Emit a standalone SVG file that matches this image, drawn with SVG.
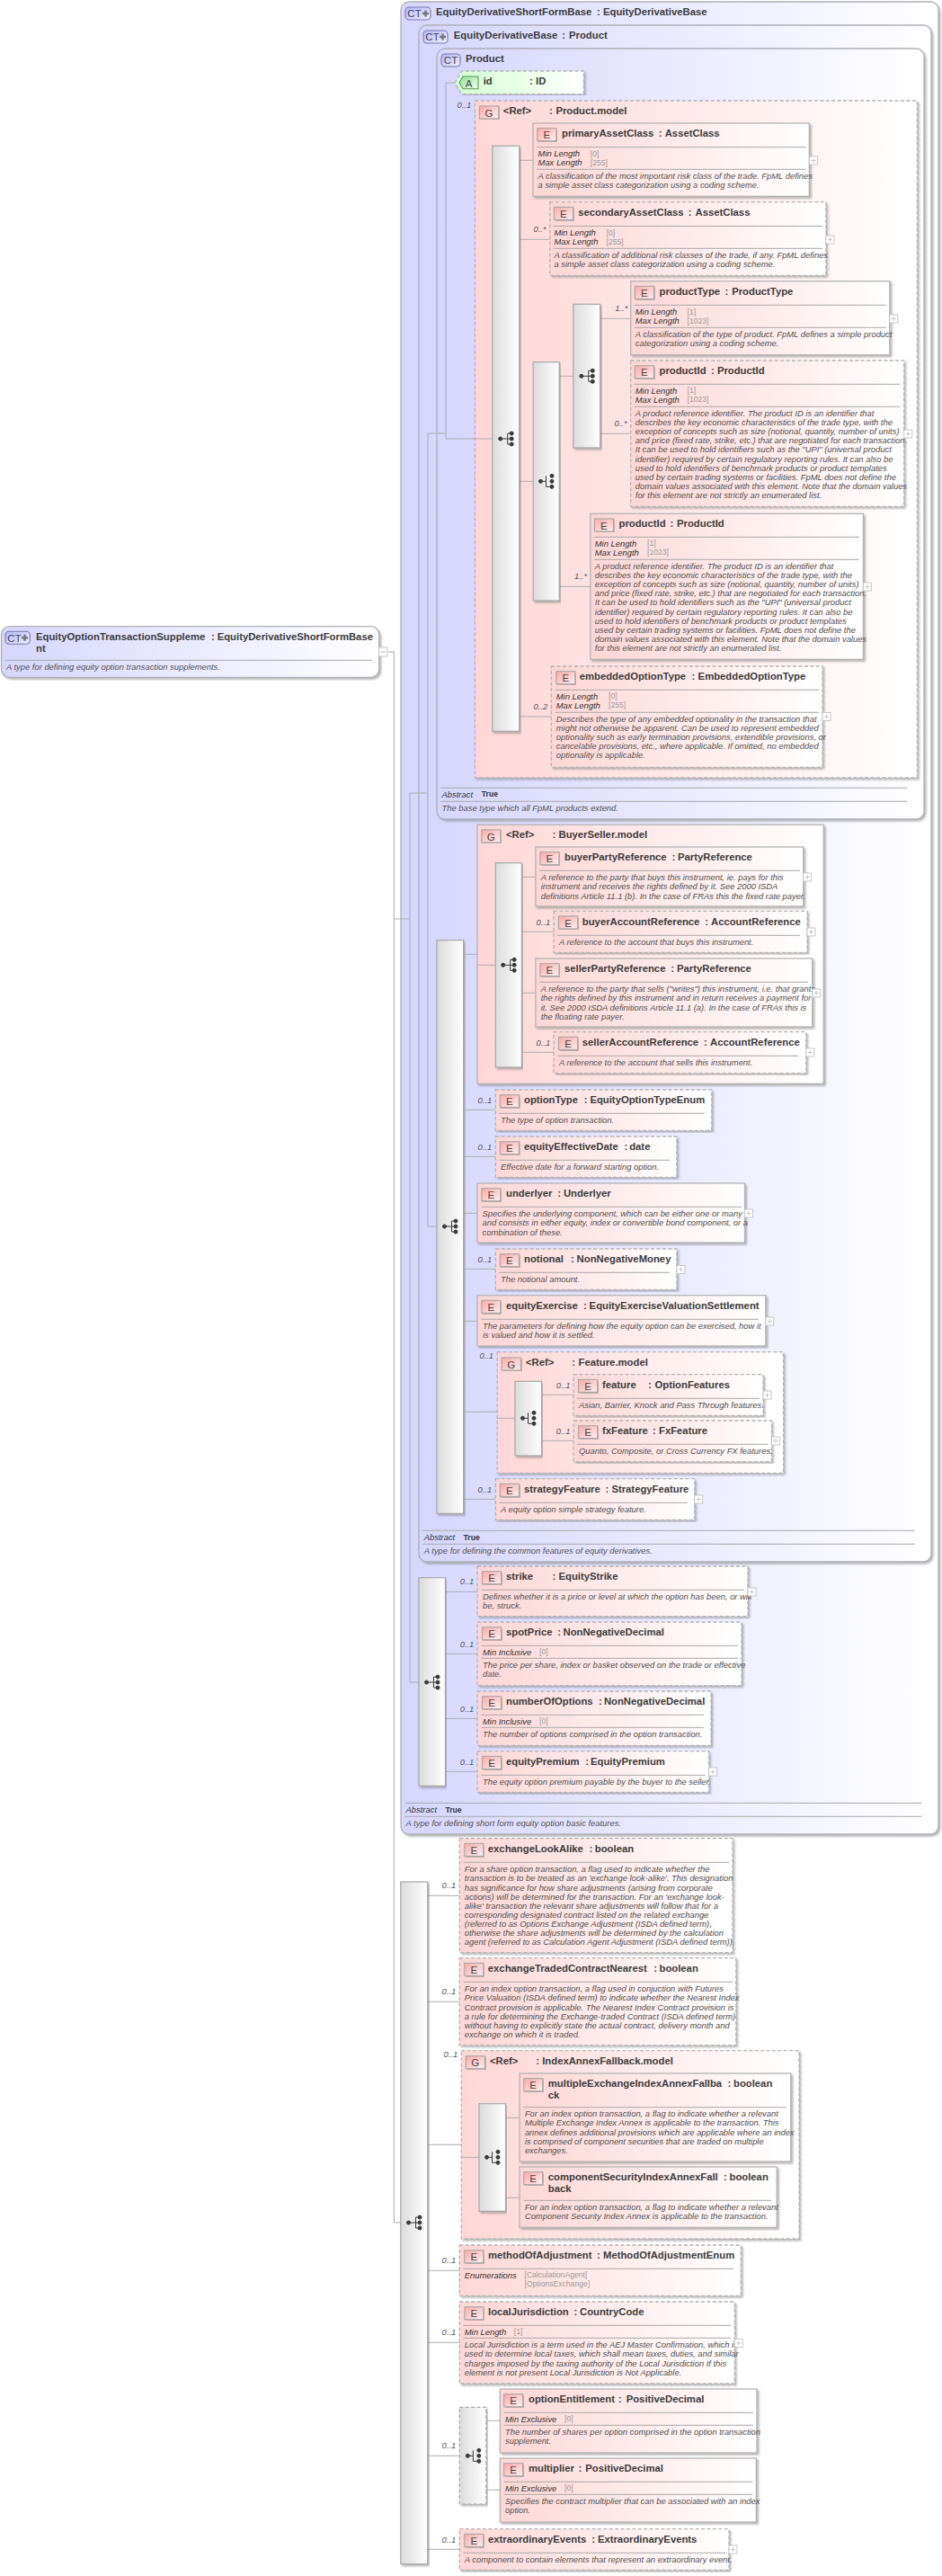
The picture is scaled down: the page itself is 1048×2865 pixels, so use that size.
<svg xmlns="http://www.w3.org/2000/svg" xmlns:xlink="http://www.w3.org/1999/xlink" width="1048" height="2865" viewBox="0 0 1048 2865">
<style>
text{font-family:"Liberation Sans",Arial,sans-serif;fill:#3c3c3c}
.n{font-size:11.3px;font-weight:bold}
.d{font-size:9.4px;font-style:italic;fill:#505050}
.f{font-size:9.4px;font-style:italic;fill:#303030}
.v{font-size:8.6px;fill:#9a9a9a}
.c{font-size:9.4px;font-style:italic;fill:#555}
.tr{font-size:8.6px;font-weight:bold;fill:#333}
.il{font-size:11.5px;text-anchor:middle;fill:#444}
.E{fill:url(#gE);stroke:#aaa;stroke-width:1.2;filter:url(#sh)}
.D{stroke-dasharray:4 2.4}
.B{stroke:#b4b4b4;stroke-width:1.3;filter:url(#sh)}
.ct{fill:url(#gC);stroke:#b0b0b8;stroke-width:1.3;filter:url(#sh)}
.pk{fill:url(#gP)}
.sq{fill:url(#gS);stroke:#a8a8a8;stroke-width:1.2;filter:url(#sh)}
.ic{fill:url(#gI);stroke:#7878a8;stroke-width:1.1}
.lin{stroke:#aaa;stroke-width:1;fill:none}
.dv{stroke:#a8a8a8;stroke-width:1;fill:none}
#connectors path{stroke:#adadad;stroke-width:1;fill:none}
</style>
<defs>
<linearGradient id="gC" x1="0" x2="1" y1="0" y2="0"><stop offset="0" stop-color="#d6d6ff"/><stop offset="1" stop-color="#ffffff"/></linearGradient>
<linearGradient id="gP" x1="0" x2="1" y1="0" y2="0"><stop offset="0" stop-color="#ffd6d6"/><stop offset="1" stop-color="#ffffff"/></linearGradient>
<linearGradient id="gG" x1="0" x2="1" y1="0" y2="0"><stop offset="0" stop-color="#d2ffd2"/><stop offset="1" stop-color="#ffffff"/></linearGradient>
<linearGradient id="gS" x1="0" x2="1" y1="0" y2="0"><stop offset="0" stop-color="#dcdcdc"/><stop offset="1" stop-color="#ffffff"/></linearGradient>
<linearGradient id="gE" x1="0" x2="1" y1="0" y2="1"><stop offset="0" stop-color="#ffa8a8"/><stop offset="1" stop-color="#fff0f0"/></linearGradient>
<linearGradient id="gI" x1="0" x2="1" y1="0" y2="1"><stop offset="0" stop-color="#b4b4ff"/><stop offset="1" stop-color="#f2f2ff"/></linearGradient>
<linearGradient id="gA" x1="0" x2="1" y1="0" y2="1"><stop offset="0" stop-color="#8fe08f"/><stop offset="1" stop-color="#f0fff0"/></linearGradient>
<filter id="sh" x="-5%" y="-5%" width="110%" height="110%"><feDropShadow dx="2" dy="2" stdDeviation="1.2" flood-color="#808080" flood-opacity="0.55"/></filter>
<g id="plus"><rect width="9" height="9" fill="#fff" stroke="#c8c8c8" stroke-width="1"/><path d="M2 4.5h5M4.5 2v5" stroke="#c8c8c8" stroke-width="1" fill="none"/></g>
<g id="seq" fill="#3a3a3a" stroke="#3a3a3a"><path d="M0 0H8M12 -6H8V6H12M8 0H12" fill="none" stroke-width="1"/><circle r="2"/><circle cx="12.5" cy="-6" r="2"/><circle cx="12.5" r="2"/><circle cx="12.5" cy="6" r="2"/></g>
<g id="cho" fill="#3a3a3a" stroke="#3a3a3a"><path d="M0 0H6M6 -6V6H12" fill="none" stroke-width="1"/><circle r="2"/><circle cx="12.5" cy="-6" r="2"/><circle cx="12.5" r="2"/><circle cx="12.5" cy="6" r="2"/></g>
</defs>
<rect width="1048" height="2865" fill="#fff"/>

<g id="ct-EquityDerivativeShortFormBase">
<rect class="ct" x="446" y="2" width="598" height="2038" rx="9"/>
<rect class="ic" x="451" y="8" width="28" height="14" rx="4"/><text class="il" x="461" y="19">CT</text><path d="M470 15h7M473.500 11.500v7" stroke="#777" stroke-width="2.500"/>
<text class="n" x="485" y="17.300">EquityDerivativeShortFormBase</text><text class="n" x="664" y="17.300">:</text><text class="n" x="671" y="17.300">EquityDerivativeBase</text>
<path class="dv" d="M450.500 2005.300H1025.500M450.500 2020.300H1025.500"/>
<text class="f" x="451.600" y="2016.300">Abstract</text><text class="tr" x="495.400" y="2015.500">True</text>
<text class="d" x="451.600" y="2031.300">A type for defining short form equity option basic features.</text>
</g>
<g id="ct-EquityDerivativeBase">
<rect class="ct" x="466" y="28" width="570" height="1709" rx="9"/>
<rect class="ic" x="471" y="34" width="27" height="14" rx="4"/><text class="il" x="481" y="45">CT</text><path d="M489 41h7M492.500 37.500v7" stroke="#777" stroke-width="2.500"/>
<text class="n" x="504.800" y="43.300">EquityDerivativeBase</text><text class="n" x="625.300" y="43.300">:</text><text class="n" x="633" y="43.300">Product</text>
<path class="dv" d="M470.200 1702.300H1017.700M470.200 1717.300H1017.700"/>
<text class="f" x="471.800" y="1713.300">Abstract</text><text class="tr" x="515.600" y="1712.500">True</text>
<text class="d" x="471.800" y="1728.300">A type for defining the common features of equity derivatives.</text>
</g>
<g id="ct-Product">
<rect class="ct" x="486" y="54" width="542" height="857" rx="9"/>
<rect class="ic" x="491" y="60" width="21" height="14" rx="4"/><text class="il" x="501.500" y="71">CT</text>
<text class="n" x="518" y="69">Product</text>
<path class="dv" d="M490.400 876.300H1009.200M490.400 891.300H1009.200"/>
<text class="f" x="491.600" y="886.700">Abstract</text><text class="tr" x="535.800" y="886">True</text>
<text class="d" x="491.600" y="902">The base type which all FpML products extend.</text>
</g>
<g id="g-Product.model">
<rect class="pk B D" x="528.400" y="112" width="492" height="753"/>
<rect class="E" x="533.400" y="118" width="21.400" height="14"/><text class="il" x="544" y="129.500">G</text>
<text class="n" x="559.800" y="127">&lt;Ref&gt;</text><text class="n" x="611" y="127">:</text><text class="n" x="618.400" y="127">Product.model</text>
<text class="c" x="508.500" y="119.500">0..1</text>
</g>
<g id="g-BuyerSeller.model">
<rect class="pk B" x="531" y="917.300" width="385.200" height="288"/>
<rect class="E" x="535.800" y="923" width="21" height="14"/><text class="il" x="546.300" y="934.500">G</text>
<text class="n" x="563" y="932">&lt;Ref&gt;</text><text class="n" x="614.500" y="932">:</text><text class="n" x="621.500" y="932">BuyerSeller.model</text>
</g>
<g id="g-Feature.model">
<rect class="pk B D" x="553.200" y="1503.700" width="318.400" height="134.600"/>
<rect class="E" x="558.300" y="1510" width="21" height="14"/><text class="il" x="568.800" y="1521.500">G</text>
<text class="n" x="585" y="1519">&lt;Ref&gt;</text><text class="n" x="636.200" y="1519">:</text><text class="n" x="643.600" y="1519">Feature.model</text>
<text class="c" x="533.400" y="1511.300">0..1</text>
</g>
<g id="g-IndexAnnexFallback.model">
<rect class="pk B D" x="513.300" y="2280.700" width="375.700" height="209.300"/>
<rect class="E" x="518.300" y="2286.700" width="21" height="14"/><text class="il" x="528.800" y="2298.200">G</text>
<text class="n" x="545" y="2296">&lt;Ref&gt;</text><text class="n" x="596.300" y="2296">:</text><text class="n" x="603.200" y="2296">IndexAnnexFallback.model</text>
<text class="c" x="493.500" y="2288.300">0..1</text>
</g>

<g id="connectors">
<path d="M431 725H438.300V2472H446M438.300 1022H456M456 882V1871H466M456 882H476M476 482V1364H486M476 482H496M496 92V488H548M496 92H506"/>
<path d="M577.600 178.300H593M577.600 266.300H611.800M577.600 535.300H593.200M622.200 418.300H637.800M667.600 354.300H701.700M667.600 482.300H701.700M622.200 652.300H656.800M577.600 797H613.300"/>
<path d="M515.600 1061.300H531M531 1073.300H551.300M580.400 975.300H595.900M580.400 1036.300H616M580.400 1104.300H595.900M580.400 1170.300H616"/>
<path d="M515.600 1234.300H551.300M515.600 1286.300H551.300M515.600 1349.300H531M515.600 1411.300H551.300M515.600 1469.300H531M515.600 1570.300H553.200M553.200 1577.300H573M602.500 1551.300H638.100M602.500 1602.300H638.100M515.600 1667.300H551.300"/>
<path d="M495.400 1770.300H531M495.400 1839.300H531M495.400 1911.300H531M495.400 1970.300H531"/>
<path d="M475.700 2108.300H511.300M475.700 2226.300H511.300M475.700 2385.300H513.300M513.300 2399.300H533M562.500 2355.300H578M562.500 2444.300H578M475.700 2525.300H511.300M475.700 2605.300H511.300M475.700 2731.300H511.300M540.800 2692.300H556.300M540.800 2769.300H556.300M475.700 2835.300H511.300"/>
</g>

<g id="root-EquityOptionTransactionSupplement">
<rect class="ct" x="1.500" y="696.700" width="420.200" height="56.600" rx="9"/>
<rect class="ic" x="6" y="702.300" width="27.300" height="14" rx="4"/><text class="il" x="16" y="713.500">CT</text><path d="M24 709.300h7M27.500 705.800v7" stroke="#777" stroke-width="2.500"/>
<text class="n" x="40" y="712">EquityOptionTransactionSuppleme</text><text class="n" x="40" y="724.700">nt</text><text class="n" x="235" y="712">:</text><text class="n" x="241.700" y="712">EquityDerivativeShortFormBase</text>
<path class="dv" d="M5.300 734.300H413.700"/>
<text class="d" x="7" y="745.300">A type for defining equity option transaction supplements.</text>
<rect x="421.700" y="720" width="9" height="10" fill="#fff" stroke="#c8c8c8"/><path d="M423.700 725h5" stroke="#b0b0b0"/>
</g>

<g id="attr-id">
<path d="M506 92L513.700 79H649.400V104.700H513.700Z" fill="url(#gG)" stroke="#b4b4b4" stroke-width="1.300" stroke-dasharray="4 2.400" filter="url(#sh)"/>
<path d="M515 85H532V98.700H515L511 92Z" fill="url(#gA)" stroke="#5a9a5a" stroke-width="1.100"/><text class="il" x="521.500" y="96.500">A</text>
<text class="n" x="537.700" y="94">id</text><text class="n" x="589" y="94">:</text><text class="n" x="596" y="94">ID</text>
</g>

<g id="seq-main" ><rect class="sq" x="547.800" y="162.300" width="29.800" height="651"/><use href="#seq" x="556.700" y="488"/></g>
<g id="seq-choice"><rect class="sq" x="593.200" y="402.700" width="29" height="265.300"/><use href="#cho" x="601.500" y="535.300"/></g>
<g id="seq-product"><rect class="sq" x="637.800" y="338.300" width="29.800" height="159.700"/><use href="#seq" x="646.800" y="418.300"/></g>

<g id="el-primaryAssetClass">
<rect class="pk B" x="593" y="137" width="307.300" height="81.300"/><rect class="E" x="597.800" y="142.700" width="21" height="14"/><text class="il" x="608.300" y="154.200">E</text>
<text class="n" x="625" y="152">primaryAssetClass</text><text class="n" x="732.800" y="152">:</text><text class="n" x="739.700" y="152">AssetClass</text>
<path class="dv" d="M597 163.700H896.800M597 188.300H896.800"/>
<text class="f" x="598.600" y="174.300">Min Length</text><text class="v" x="656.800" y="173.600">[0]</text>
<text class="f" x="598.600" y="184.300">Max Length</text><text class="v" x="656.800" y="183.600">[255]</text>
<text class="d" x="598.600" y="199.300">A classification of the most important risk class of the trade. FpML defines</text>
<text class="d" x="598.600" y="209.400">a simple asset class categorization using a coding scheme.</text>
<use href="#plus" x="900.600" y="174"/>
</g>
<g id="el-secondaryAssetClass">
<rect class="pk B D" x="611.800" y="224.700" width="307.100" height="81.600"/><rect class="E" x="616.400" y="230.400" width="21" height="14"/><text class="il" x="626.900" y="241.900">E</text>
<text class="n" x="643.200" y="240">secondaryAssetClass</text><text class="n" x="765.700" y="240">:</text><text class="n" x="773.500" y="240">AssetClass</text>
<path class="dv" d="M615.600 251.500H915M615.600 276.300H915"/>
<text class="f" x="616.400" y="262.300">Min Length</text><text class="v" x="674.600" y="261.600">[0]</text>
<text class="f" x="616.400" y="272.300">Max Length</text><text class="v" x="674.600" y="271.600">[255]</text>
<text class="d" x="616.400" y="287.300">A classification of additional risk classes of the trade, if any. FpML defines</text>
<text class="d" x="616.400" y="297.400">a simple asset class categorization using a coding scheme.</text>
<text class="c" x="593.500" y="257.700">0..*</text><use href="#plus" x="918.900" y="262"/>
</g>
<g id="el-productType">
<rect class="pk B" x="701.700" y="312.700" width="288.100" height="82"/><rect class="E" x="706.400" y="318.400" width="21" height="14"/><text class="il" x="716.900" y="329.900">E</text>
<text class="n" x="733.500" y="328">productType</text><text class="n" x="806.400" y="328">:</text><text class="n" x="814.200" y="328">ProductType</text>
<path class="dv" d="M705.600 339.300H985.800M705.600 364.300H985.800"/>
<text class="f" x="706.800" y="350.300">Min Length</text><text class="v" x="764.500" y="349.600">[1]</text>
<text class="f" x="706.800" y="360.300">Max Length</text><text class="v" x="764.500" y="359.600">[1023]</text>
<text class="d" x="706.800" y="375.300">A classification of the type of product. FpML defines a simple product</text>
<text class="d" x="706.800" y="385.400">categorization using a coding scheme.</text>
<text class="c" x="684.300" y="345.700">1..*</text><use href="#plus" x="989.800" y="350"/>
</g>
<g id="el-productId-1">
<rect class="pk B D" x="701.700" y="401" width="304" height="162.300"/><rect class="E" x="706.400" y="406.700" width="21" height="14"/><text class="il" x="716.900" y="418.200">E</text>
<text class="n" x="733.500" y="416.300">productId</text><text class="n" x="791" y="416.300">:</text><text class="n" x="797.900" y="416.300">ProductId</text>
<path class="dv" d="M705.600 427.300H1001M705.600 452.300H1001"/>
<text class="f" x="706.800" y="437.700">Min Length</text><text class="v" x="764.500" y="437">[1]</text>
<text class="f" x="706.800" y="447.700">Max Length</text><text class="v" x="764.500" y="447">[1023]</text>
<text class="d" x="706.800" y="463">A product reference identifier. The product ID is an identifier that</text>
<text class="d" x="706.800" y="473.100">describes the key economic characteristics of the trade type, with the</text>
<text class="d" x="706.800" y="483.200">exception of concepts such as size (notional, quantity, number of units)</text>
<text class="d" x="706.800" y="493.300">and price (fixed rate, strike, etc.) that are negotiated for each transaction.</text>
<text class="d" x="706.800" y="503.400">It can be used to hold identifiers such as the "UPI" (universal product</text>
<text class="d" x="706.800" y="513.500">identifier) required by certain regulatory reporting rules. It can also be</text>
<text class="d" x="706.800" y="523.600">used to hold identifiers of benchmark products or product templates</text>
<text class="d" x="706.800" y="533.700">used by certain trading systems or facilities. FpML does not define the</text>
<text class="d" x="706.800" y="543.800">domain values associated with this element. Note that the domain values</text>
<text class="d" x="706.800" y="553.900">for this element are not strictly an enumerated list.</text>
<text class="c" x="683.500" y="473.700">0..*</text><use href="#plus" x="1005.700" y="478"/>
</g>
<g id="el-productId-2">
<rect class="pk B" x="656.800" y="571.300" width="303.600" height="162"/><rect class="E" x="661.400" y="577" width="21" height="14"/><text class="il" x="671.900" y="588.500">E</text>
<text class="n" x="688.500" y="586.300">productId</text><text class="n" x="745.500" y="586.300">:</text><text class="n" x="753" y="586.300">ProductId</text>
<path class="dv" d="M660.600 597.300H956M660.600 622.300H956"/>
<text class="f" x="661.800" y="607.700">Min Length</text><text class="v" x="720" y="607">[1]</text>
<text class="f" x="661.800" y="617.700">Max Length</text><text class="v" x="720" y="617">[1023]</text>
<text class="d" x="661.800" y="633">A product reference identifier. The product ID is an identifier that</text>
<text class="d" x="661.800" y="643.100">describes the key economic characteristics of the trade type, with the</text>
<text class="d" x="661.800" y="653.200">exception of concepts such as size (notional, quantity, number of units)</text>
<text class="d" x="661.800" y="663.300">and price (fixed rate, strike, etc.) that are negotiated for each transaction.</text>
<text class="d" x="661.800" y="673.400">It can be used to hold identifiers such as the "UPI" (universal product</text>
<text class="d" x="661.800" y="683.500">identifier) required by certain regulatory reporting rules. It can also be</text>
<text class="d" x="661.800" y="693.600">used to hold identifiers of benchmark products or product templates</text>
<text class="d" x="661.800" y="703.700">used by certain trading systems or facilities. FpML does not define the</text>
<text class="d" x="661.800" y="713.800">domain values associated with this element. Note that the domain values</text>
<text class="d" x="661.800" y="723.900">for this element are not strictly an enumerated list.</text>
<text class="c" x="639" y="643.700">1..*</text><use href="#plus" x="960.400" y="648"/>
</g>
<g id="el-embeddedOptionType">
<rect class="pk B D" x="613.300" y="741" width="301.700" height="112.300"/><rect class="E" x="618.800" y="746.700" width="21" height="14"/><text class="il" x="629.300" y="758.200">E</text>
<text class="n" x="644.700" y="756">embeddedOptionType</text><text class="n" x="769.600" y="756">:</text><text class="n" x="776.600" y="756">EmbeddedOptionType</text>
<path class="dv" d="M617.600 767.300H911M617.600 792.300H911"/>
<text class="f" x="618.800" y="778">Min Length</text><text class="v" x="677" y="777.300">[0]</text>
<text class="f" x="618.800" y="788">Max Length</text><text class="v" x="677" y="787.300">[255]</text>
<text class="d" x="618.800" y="803">Describes the type of any embedded optionality in the transaction that</text>
<text class="d" x="618.800" y="813.100">might not otherwise be apparent. Can be used to represent embedded</text>
<text class="d" x="618.800" y="823.200">optionality such as early termination provisions, extendible provisions, or</text>
<text class="d" x="618.800" y="833.300">cancelable provisions, etc., where applicable. If omitted, no embedded</text>
<text class="d" x="618.800" y="843.400">optionality is applicable.</text>
<text class="c" x="593.500" y="788.700">0..2</text><use href="#plus" x="915" y="792.500"/>
</g>

<g id="seq-base"><rect class="sq" x="486" y="1045.700" width="29.600" height="637.600"/><use href="#seq" x="494.500" y="1364"/></g>
<g id="seq-buyerseller"><rect class="sq" x="551.300" y="959.700" width="29.100" height="227.300"/><use href="#seq" x="559.700" y="1073.300"/></g>

<g id="el-buyerPartyReference">
<rect class="pk B" x="595.900" y="942" width="297.800" height="66"/><rect class="E" x="600.900" y="947.700" width="21" height="14"/><text class="il" x="611.400" y="959.200">E</text>
<text class="n" x="628" y="957.300">buyerPartyReference</text><text class="n" x="747.500" y="957.300">:</text><text class="n" x="754" y="957.300">PartyReference</text>
<path class="dv" d="M600 968.300H890"/>
<text class="d" x="601.700" y="979.300">A reference to the party that buys this instrument, ie. pays for this</text>
<text class="d" x="601.700" y="989.400">instrument and receives the rights defined by it. See 2000 ISDA</text>
<text class="d" x="601.700" y="999.500">definitions Article 11.1 (b). In the case of FRAs this the fixed rate payer.</text>
<use href="#plus" x="893.700" y="971"/>
</g>
<g id="el-buyerAccountReference">
<rect class="pk B D" x="616" y="1013.300" width="282" height="46"/><rect class="E" x="621.500" y="1019" width="21" height="14"/><text class="il" x="632" y="1030.500">E</text>
<text class="n" x="647.800" y="1029">buyerAccountReference</text><text class="n" x="784.300" y="1029">:</text><text class="n" x="791" y="1029">AccountReference</text>
<path class="dv" d="M620 1040.300H890"/>
<text class="d" x="621.900" y="1051.300">A reference to the account that buys this instrument.</text>
<text class="c" x="596.600" y="1029">0..1</text><use href="#plus" x="898" y="1032"/>
</g>
<g id="el-sellerPartyReference">
<rect class="pk B" x="595.900" y="1066" width="307.800" height="76"/><rect class="E" x="600.900" y="1071.700" width="21" height="14"/><text class="il" x="611.400" y="1083.200">E</text>
<text class="n" x="628" y="1081.300">sellerPartyReference</text><text class="n" x="746.300" y="1081.300">:</text><text class="n" x="753" y="1081.300">PartyReference</text>
<path class="dv" d="M600 1092.300H899"/>
<text class="d" x="601.700" y="1103.300">A reference to the party that sells ("writes") this instrument, i.e. that grants</text>
<text class="d" x="601.700" y="1113.400">the rights defined by this instrument and in return receives a payment for</text>
<text class="d" x="601.700" y="1123.500">it. See 2000 ISDA definitions Article 11.1 (a). In the case of FRAs this is</text>
<text class="d" x="601.700" y="1133.600">the floating rate payer.</text>
<use href="#plus" x="903.700" y="1100"/>
</g>
<g id="el-sellerAccountReference">
<rect class="pk B D" x="616" y="1147.700" width="280.800" height="46"/><rect class="E" x="621.500" y="1153.400" width="21" height="14"/><text class="il" x="632" y="1164.900">E</text>
<text class="n" x="647.800" y="1163">sellerAccountReference</text><text class="n" x="783" y="1163">:</text><text class="n" x="790" y="1163">AccountReference</text>
<path class="dv" d="M620 1174.300H888"/>
<text class="d" x="621.900" y="1185.300">A reference to the account that sells this instrument.</text>
<text class="c" x="596.600" y="1163">0..1</text><use href="#plus" x="896.800" y="1166"/>
</g>
<g id="el-optionType">
<rect class="pk B D" x="551.300" y="1212" width="240.400" height="45.300"/><rect class="E" x="556.300" y="1217.700" width="21" height="14"/><text class="il" x="566.800" y="1229.200">E</text>
<text class="n" x="583" y="1227.300">optionType</text><text class="n" x="649.800" y="1227.300">:</text><text class="n" x="656.400" y="1227.300">EquityOptionTypeEnum</text>
<path class="dv" d="M555.500 1238.300H783.800"/>
<text class="d" x="557" y="1249.300">The type of option transaction.</text>
<text class="c" x="531.500" y="1227">0..1</text>
</g>
<g id="el-equityEffectiveDate">
<rect class="pk B D" x="551.300" y="1264" width="201.600" height="45.300"/><rect class="E" x="556.300" y="1269.700" width="21" height="14"/><text class="il" x="566.800" y="1281.200">E</text>
<text class="n" x="583" y="1279.300">equityEffectiveDate</text><text class="n" x="694.400" y="1279.300">:</text><text class="n" x="700.200" y="1279.300">date</text>
<path class="dv" d="M555.500 1290.300H745"/>
<text class="d" x="557" y="1301.300">Effective date for a forward starting option.</text>
<text class="c" x="531.500" y="1279">0..1</text>
</g>
<g id="el-underlyer">
<rect class="pk B" x="531" y="1316" width="297.500" height="66"/><rect class="E" x="535.800" y="1321.700" width="21" height="14"/><text class="il" x="546.300" y="1333.200">E</text>
<text class="n" x="563" y="1331.300">underlyer</text><text class="n" x="620.300" y="1331.300">:</text><text class="n" x="626.900" y="1331.300">Underlyer</text>
<path class="dv" d="M535.500 1342.300H825"/>
<text class="d" x="536.600" y="1353.300">Specifies the underlying component, which can be either one or many</text>
<text class="d" x="536.600" y="1363.400">and consists in either equity, index or convertible bond component, or a</text>
<text class="d" x="536.600" y="1373.500">combination of these.</text>
<use href="#plus" x="828.500" y="1345"/>
</g>
<g id="el-notional">
<rect class="pk B D" x="551.300" y="1389" width="201.600" height="45.300"/><rect class="E" x="556.300" y="1394.700" width="21" height="14"/><text class="il" x="566.800" y="1406.200">E</text>
<text class="n" x="583" y="1404.300">notional</text><text class="n" x="635" y="1404.300">:</text><text class="n" x="641.600" y="1404.300">NonNegativeMoney</text>
<path class="dv" d="M555.500 1415.300H745"/>
<text class="d" x="557" y="1426.300">The notional amount.</text>
<text class="c" x="531.500" y="1404">0..1</text><use href="#plus" x="752.900" y="1407.500"/>
</g>
<g id="el-equityExercise">
<rect class="pk B" x="531" y="1440.700" width="320.800" height="56.300"/><rect class="E" x="535.800" y="1446.400" width="21" height="14"/><text class="il" x="546.300" y="1457.900">E</text>
<text class="n" x="563" y="1456">equityExercise</text><text class="n" x="649" y="1456">:</text><text class="n" x="655.600" y="1456">EquityExerciseValuationSettlement</text>
<path class="dv" d="M535.500 1467.300H843.800"/>
<text class="d" x="537" y="1478.300">The parameters for defining how the equity option can be exercised, how it</text>
<text class="d" x="537" y="1488.400">is valued and how it is settled.</text>
<use href="#plus" x="851.800" y="1465"/>
</g>
<g id="seq-feature"><rect class="sq" x="573" y="1536.300" width="29.500" height="82.700"/><use href="#cho" x="581.500" y="1577.300"/></g>
<g id="el-feature">
<rect class="pk B D" x="638.100" y="1528.700" width="210.900" height="45.600"/><rect class="E" x="643.600" y="1534.400" width="21" height="14"/><text class="il" x="654.100" y="1545.900">E</text>
<text class="n" x="670" y="1544.300">feature</text><text class="n" x="721" y="1544.300">:</text><text class="n" x="728.500" y="1544.300">OptionFeatures</text>
<path class="dv" d="M642 1555.300H845"/>
<text class="d" x="644" y="1566.300">Asian, Barrier, Knock and Pass Through features.</text>
<text class="c" x="618.800" y="1544">0..1</text><use href="#plus" x="849" y="1547"/>
</g>
<g id="el-fxFeature">
<rect class="pk B D" x="638.100" y="1580" width="220.300" height="45.700"/><rect class="E" x="643.600" y="1585.700" width="21" height="14"/><text class="il" x="654.100" y="1597.200">E</text>
<text class="n" x="670" y="1595.300">fxFeature</text><text class="n" x="726" y="1595.300">:</text><text class="n" x="733" y="1595.300">FxFeature</text>
<path class="dv" d="M642 1606.300H854"/>
<text class="d" x="644" y="1617.300">Quanto, Composite, or Cross Currency FX features.</text>
<text class="c" x="618.800" y="1595">0..1</text><use href="#plus" x="858.400" y="1598"/>
</g>
<g id="el-strategyFeature">
<rect class="pk B D" x="551.300" y="1644.700" width="221.400" height="45.600"/><rect class="E" x="556.300" y="1650.400" width="21" height="14"/><text class="il" x="566.800" y="1661.900">E</text>
<text class="n" x="583" y="1660">strategyFeature</text><text class="n" x="673.400" y="1660">:</text><text class="n" x="680.400" y="1660">StrategyFeature</text>
<path class="dv" d="M555.500 1671.300H765"/>
<text class="d" x="557" y="1682.300">A equity option simple strategy feature.</text>
<text class="c" x="531.500" y="1659.700">0..1</text><use href="#plus" x="772.700" y="1663"/>
</g>

<g id="seq-shortform"><rect class="sq" x="466" y="1754.700" width="29.400" height="231.600"/><use href="#seq" x="474.500" y="1871"/></g>
<g id="el-strike">
<rect class="pk B D" x="531" y="1742" width="301" height="55.700"/><rect class="E" x="536.500" y="1747.700" width="21" height="14"/><text class="il" x="547" y="1759.200">E</text>
<text class="n" x="563" y="1757.300">strike</text><text class="n" x="614.500" y="1757.300">:</text><text class="n" x="621.500" y="1757.300">EquityStrike</text>
<path class="dv" d="M535.500 1768.300H828"/>
<text class="d" x="537" y="1779.300">Defines whether it is a price or level at which the option has been, or will</text>
<text class="d" x="537" y="1789.400">be, struck.</text>
<text class="c" x="511.700" y="1762">0..1</text><use href="#plus" x="832" y="1766"/>
</g>
<g id="el-spotPrice">
<rect class="pk B D" x="531" y="1804" width="294" height="70.700"/><rect class="E" x="536.500" y="1809.700" width="21" height="14"/><text class="il" x="547" y="1821.200">E</text>
<text class="n" x="563" y="1819.300">spotPrice</text><text class="n" x="620.300" y="1819.300">:</text><text class="n" x="626.500" y="1819.300">NonNegativeDecimal</text>
<path class="dv" d="M535.500 1830.300H821M535.500 1844.300H821"/>
<text class="f" x="537" y="1841">Min Inclusive</text><text class="v" x="600" y="1840.300">[0]</text>
<text class="d" x="537" y="1855.300">The price per share, index or basket observed on the trade or effective</text>
<text class="d" x="537" y="1865.400">date.</text>
<text class="c" x="511.700" y="1831.700">0..1</text>
</g>
<g id="el-numberOfOptions">
<rect class="pk B D" x="531" y="1881" width="260" height="60.300"/><rect class="E" x="536.500" y="1886.700" width="21" height="14"/><text class="il" x="547" y="1898.200">E</text>
<text class="n" x="563" y="1896.300">numberOfOptions</text><text class="n" x="666" y="1896.300">:</text><text class="n" x="671.900" y="1896.300">NonNegativeDecimal</text>
<path class="dv" d="M535.500 1907.300H783M535.500 1921.300H783"/>
<text class="f" x="537" y="1918">Min Inclusive</text><text class="v" x="600" y="1917.300">[0]</text>
<text class="d" x="537" y="1932.300">The number of options comprised in the option transaction.</text>
<text class="c" x="511.700" y="1904">0..1</text>
</g>
<g id="el-equityPremium">
<rect class="pk B D" x="531" y="1947.700" width="257.600" height="45.600"/><rect class="E" x="536.500" y="1953.400" width="21" height="14"/><text class="il" x="547" y="1964.900">E</text>
<text class="n" x="563" y="1963">equityPremium</text><text class="n" x="651.300" y="1963">:</text><text class="n" x="657" y="1963">EquityPremium</text>
<path class="dv" d="M535.500 1974.300H784.700"/>
<text class="d" x="537" y="1985.300">The equity option premium payable by the buyer to the seller.</text>
<text class="c" x="511.700" y="1962.700">0..1</text><use href="#plus" x="788.600" y="1966"/>
</g>

<g id="seq-root"><rect class="sq" x="445.800" y="2093" width="29.900" height="758.700"/><use href="#seq" x="454.500" y="2472"/></g>
<g id="el-exchangeLookAlike">
<rect class="pk B D" x="511.300" y="2044.700" width="303.700" height="127"/><rect class="E" x="516.800" y="2050.400" width="21" height="14"/><text class="il" x="527.300" y="2061.900">E</text>
<text class="n" x="542.800" y="2060.300">exchangeLookAlike</text><text class="n" x="655.600" y="2060.300">:</text><text class="n" x="661.800" y="2060.300">boolean</text>
<path class="dv" d="M515.500 2071.300H811"/>
<text class="d" x="516.800" y="2082.300">For a share option transaction, a flag used to indicate whether the</text>
<text class="d" x="516.800" y="2092.400">transaction is to be treated as an 'exchange look-alike'. This designation</text>
<text class="d" x="516.800" y="2102.500">has significance for how share adjustments (arising from corporate</text>
<text class="d" x="516.800" y="2112.600">actions) will be determined for the transaction. For an 'exchange look-</text>
<text class="d" x="516.800" y="2122.700">alike' transaction the relevant share adjustments will follow that for a</text>
<text class="d" x="516.800" y="2132.800">corresponding designated contract listed on the related exchange</text>
<text class="d" x="516.800" y="2142.900">(referred to as Options Exchange Adjustment (ISDA defined term),</text>
<text class="d" x="516.800" y="2153">otherwise the share adjustments will be determined by the calculation</text>
<text class="d" x="516.800" y="2163.100">agent (referred to as Calculation Agent Adjustment (ISDA defined term)).</text>
<text class="c" x="491.600" y="2100.300">0..1</text>
</g>
<g id="el-exchangeTradedContractNearest">
<rect class="pk B D" x="511.300" y="2177.700" width="307.500" height="97"/><rect class="E" x="516.800" y="2183.400" width="21" height="14"/><text class="il" x="527.300" y="2194.900">E</text>
<text class="n" x="542.800" y="2193.300">exchangeTradedContractNearest</text><text class="n" x="727.300" y="2193.300">:</text><text class="n" x="733.500" y="2193.300">boolean</text>
<path class="dv" d="M515.500 2204.300H815"/>
<text class="d" x="516.800" y="2215.300">For an index option transaction, a flag used in conjuction with Futures</text>
<text class="d" x="516.800" y="2225.400">Price Valuation (ISDA defined term) to indicate whether the Nearest Index</text>
<text class="d" x="516.800" y="2235.500">Contract provision is applicable. The Nearest Index Contract provision is</text>
<text class="d" x="516.800" y="2245.600">a rule for determining the Exchange-traded Contract (ISDA defined term)</text>
<text class="d" x="516.800" y="2255.700">without having to explicitly state the actual contract, delivery month and</text>
<text class="d" x="516.800" y="2265.800">exchange on which it is traded.</text>
<text class="c" x="491.600" y="2218.300">0..1</text>
</g>
<g id="seq-index"><rect class="sq" x="533" y="2339.700" width="29.500" height="119.600"/><use href="#cho" x="541.500" y="2399.300"/></g>
<g id="el-multipleExchangeIndexAnnexFallback">
<rect class="pk B" x="578" y="2306" width="301.700" height="98"/><rect class="E" x="582.700" y="2311.700" width="21" height="14"/><text class="il" x="593.200" y="2323.200">E</text>
<text class="n" x="609.800" y="2321.300">multipleExchangeIndexAnnexFallba</text><text class="n" x="609.800" y="2333.700">ck</text><text class="n" x="809.500" y="2321.300">:</text><text class="n" x="816" y="2321.300">boolean</text>
<path class="dv" d="M582.500 2343.700H875"/>
<text class="d" x="583.900" y="2354.300">For an index option transaction, a flag to indicate whether a relevant</text>
<text class="d" x="583.900" y="2364.400">Multiple Exchange Index Annex is applicable to the transaction. This</text>
<text class="d" x="583.900" y="2374.500">annex defines additional provisions which are applicable where an index</text>
<text class="d" x="583.900" y="2384.600">is comprised of component securities that are traded on multiple</text>
<text class="d" x="583.900" y="2394.700">exchanges.</text>
</g>
<g id="el-componentSecurityIndexAnnexFallback">
<rect class="pk B" x="578" y="2410" width="286.200" height="67.300"/><rect class="E" x="582.700" y="2415.700" width="21" height="14"/><text class="il" x="593.200" y="2427.200">E</text>
<text class="n" x="609.800" y="2425">componentSecurityIndexAnnexFall</text><text class="n" x="609.800" y="2437.700">back</text><text class="n" x="804.900" y="2425">:</text><text class="n" x="811.500" y="2425">boolean</text>
<path class="dv" d="M582.500 2447.300H858"/>
<text class="d" x="583.900" y="2458.300">For an index option transaction, a flag to indicate whether a relevant</text>
<text class="d" x="583.900" y="2468.400">Component Security Index Annex is applicable to the transaction.</text>
</g>
<g id="el-methodOfAdjustment">
<rect class="pk B D" x="511.300" y="2497" width="313" height="56.300"/><rect class="E" x="516.800" y="2502.700" width="21" height="14"/><text class="il" x="527.300" y="2514.200">E</text>
<text class="n" x="543" y="2512.300">methodOfAdjustment</text><text class="n" x="664" y="2512.300">:</text><text class="n" x="671" y="2512.300">MethodOfAdjustmentEnum</text>
<path class="dv" d="M515.500 2523.300H816"/>
<text class="f" x="516.800" y="2534.300">Enumerations</text><text class="v" x="583.500" y="2533.300">[CalculationAgent]</text><text class="v" x="583.500" y="2543.400">[OptionsExchange]</text>
<text class="c" x="491.600" y="2517">0..1</text>
</g>
<g id="el-localJurisdiction">
<rect class="pk B D" x="511.300" y="2560" width="306" height="91"/><rect class="E" x="516.800" y="2565.700" width="21" height="14"/><text class="il" x="527.300" y="2577.200">E</text>
<text class="n" x="543" y="2575.300">localJurisdiction</text><text class="n" x="638.500" y="2575.300">:</text><text class="n" x="645" y="2575.300">CountryCode</text>
<path class="dv" d="M515.500 2586.300H813M515.500 2600.300H813"/>
<text class="f" x="516.800" y="2597">Min Length</text><text class="v" x="571.800" y="2596.300">[1]</text>
<text class="d" x="516.800" y="2611.300">Local Jurisdiction is a term used in the AEJ Master Confirmation, which is</text>
<text class="d" x="516.800" y="2621.400">used to determine local taxes, which shall mean taxes, duties, and similar</text>
<text class="d" x="516.800" y="2631.500">charges imposed by the taxing authority of the Local Jurisdiction If this</text>
<text class="d" x="516.800" y="2641.600">element is not present Local Jurisdiction is Not Applicable.</text>
<text class="c" x="491.600" y="2597.300">0..1</text><use href="#plus" x="817.300" y="2601.500"/>
</g>
<g id="seq-entitlement"><rect class="sq D" x="511.300" y="2677.300" width="29.500" height="107.700"/><use href="#cho" x="520.300" y="2731.300"/><text class="c" x="491.600" y="2723">0..1</text></g>
<g id="el-optionEntitlement">
<rect class="pk B" x="556.300" y="2657" width="285.700" height="71"/><rect class="E" x="560.600" y="2662.700" width="21" height="14"/><text class="il" x="571.100" y="2674.200">E</text>
<text class="n" x="588" y="2672.300">optionEntitlement</text><text class="n" x="688" y="2672.300">:</text><text class="n" x="696.700" y="2672.300">PositiveDecimal</text>
<path class="dv" d="M560.500 2683.300H838M560.500 2697.300H838"/>
<text class="f" x="562" y="2694">Min Exclusive</text><text class="v" x="628" y="2693.300">[0]</text>
<text class="d" x="562" y="2708">The number of shares per option comprised in the option transaction</text>
<text class="d" x="562" y="2718.100">supplement.</text>
</g>
<g id="el-multiplier">
<rect class="pk B" x="556.300" y="2734" width="285" height="71"/><rect class="E" x="560.600" y="2739.700" width="21" height="14"/><text class="il" x="571.100" y="2751.200">E</text>
<text class="n" x="588" y="2749.300">multiplier</text><text class="n" x="643.600" y="2749.300">:</text><text class="n" x="651.300" y="2749.300">PositiveDecimal</text>
<path class="dv" d="M560.500 2760.300H837.500M560.500 2774.300H837.500"/>
<text class="f" x="562" y="2771">Min Exclusive</text><text class="v" x="628" y="2770.300">[0]</text>
<text class="d" x="562" y="2785">Specifies the contract multiplier that can be associated with an index</text>
<text class="d" x="562" y="2795.100">option.</text>
</g>
<g id="el-extraordinaryEvents">
<rect class="pk B D" x="511.300" y="2812.700" width="299.700" height="45.600"/><rect class="E" x="516.800" y="2818.400" width="21" height="14"/><text class="il" x="527.300" y="2829.900">E</text>
<text class="n" x="543" y="2828.300">extraordinaryEvents</text><text class="n" x="658.300" y="2828.300">:</text><text class="n" x="664.900" y="2828.300">ExtraordinaryEvents</text>
<path class="dv" d="M515.500 2839.300H807"/>
<text class="d" x="516.800" y="2850">A component to contain elements that represent an extraordinary event.</text>
<text class="c" x="491.600" y="2828">0..1</text><use href="#plus" x="811" y="2831"/>
</g>
</svg>
